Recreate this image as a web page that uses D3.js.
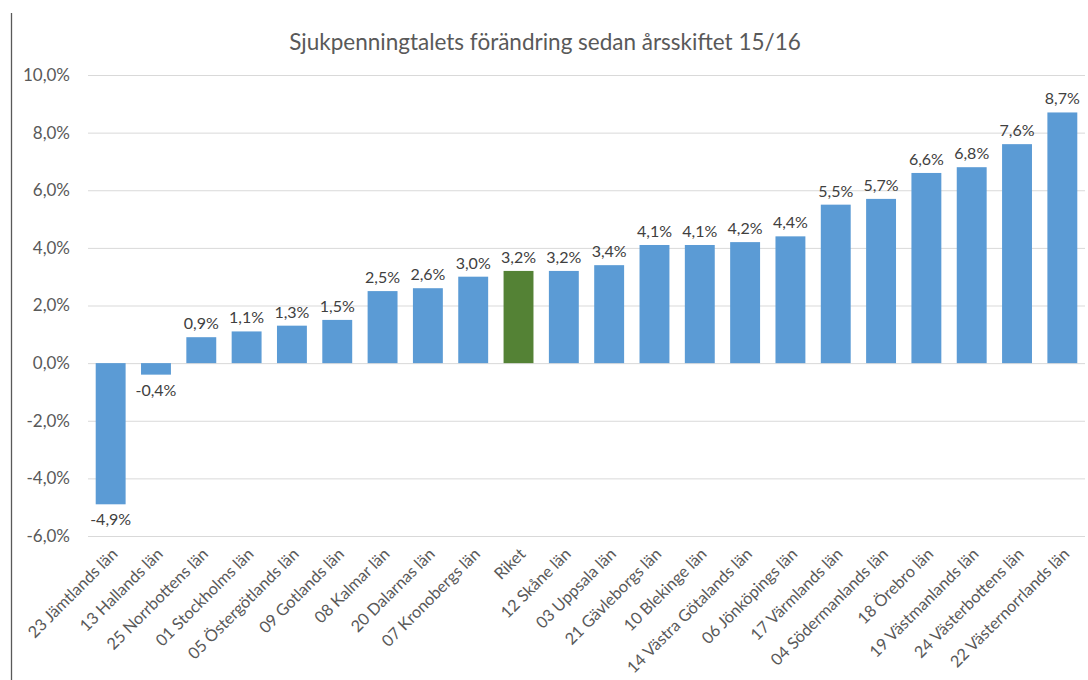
<!DOCTYPE html>
<html>
<head>
<meta charset="utf-8">
<script src="https://cdn.jsdelivr.net/npm/d3@7"></script>
<style>
  body { margin: 0; background: #fff; }
  svg { display: block; font-family: Lato, "Open Sans", sans-serif; }
</style>
</head>
<body>
<svg id="chart"></svg>
<script>
// categories and values
const categories = [
    "23 Jämtlands län", "13 Hallands län", "25 Norrbottens län", "01 Stockholms län",
    "05 Östergötlands län", "09 Gotlands län", "08 Kalmar län", "20 Dalarnas län",
    "07 Kronobergs län", "Riket", "12 Skåne län", "03 Uppsala län", "21 Gävleborgs län",
    "10 Blekinge län", "14 Västra Götalands län", "06 Jönköpings län", "17 Värmlands län",
    "04 Södermanlands län", "18 Örebro län", "19 Västmanlands län", "24 Västerbottens län",
    "22 Västernorrlands län"
];
const values = [-4.9, -0.4, 0.9, 1.1, 1.3, 1.5, 2.5, 2.6, 3.0, 3.2, 3.2, 3.4, 4.1, 4.1, 4.2, 4.4, 5.5, 5.7, 6.6, 6.8, 7.6, 8.7];
const yTicks = [-6, -4, -2, 0, 2, 4, 6, 8, 10];
const highlight = "Riket";

const data = categories.map((c, i) => ({ key: c, value: values[i] }));

var width = 1088,
    height = 680;

var svg = d3.select("#chart")
    .attr("width", width)
    .attr("height", height);

var plotLeft = 88, plotRight = 1085, plotTop = 75, plotBottom = 536;

var xScale = d3.scaleBand().domain(categories).range([plotLeft, plotRight]).paddingInner(0.34).paddingOuter(0.17),
    yScale = d3.scaleLinear().domain([-6, 10]).range([plotBottom, plotTop]);

const pct = d => d3.format(".1f")(d).replace(".", ",").replace("−", "-") + "%";

// left border line
svg.append("line")
    .attr("x1", 11.5).attr("x2", 11.5)
    .attr("y1", 13).attr("y2", height)
    .attr("stroke", "#595959").attr("stroke-width", 1.3);

// title
svg.append("text")
    .attr("x", 545).attr("y", 50)
    .attr("text-anchor", "middle")
    .attr("fill", "#595959")
    .style("font-size", "22.5px")
    .text("Sjukpenningtalets förändring sedan årsskiftet 15/16");

// gridlines + y axis labels
var yAxis = svg.append("g")
    .attr("transform", "translate(" + plotLeft + ",0)")
    .call(d3.axisLeft(yScale).tickValues(yTicks).tickSize(-(plotRight - plotLeft)).tickFormat(pct));

yAxis.select(".domain").remove();
yAxis.selectAll(".tick line").attr("stroke", "#d9d9d9");
yAxis.selectAll(".tick text")
    .attr("x", -18)
    .attr("fill", "#595959")
    .style("font-size", "17px")
    .style("font-family", "Lato, sans-serif");

// bars
svg.append("g").selectAll("rect")
    .data(data)
    .join("rect")
    .attr("x", d => xScale(d.key))
    .attr("width", xScale.bandwidth())
    .attr("y", d => yScale(Math.max(0, d.value)))
    .attr("height", d => Math.abs(yScale(d.value) - yScale(0)))
    .attr("fill", d => d.key === highlight ? "#548235" : "#5b9bd5");

// value labels
svg.append("g").selectAll("text")
    .data(data)
    .join("text")
    .attr("x", d => xScale(d.key) + xScale.bandwidth() / 2)
    .attr("y", d => d.value >= 0 ? yScale(d.value) - 8 : yScale(d.value) + 21)
    .attr("text-anchor", "middle")
    .attr("fill", "#404040")
    .style("font-size", "16px")
    .text(d => pct(d.value));

// category labels, rotated
svg.append("g").selectAll("text")
    .data(data)
    .join("text")
    .attr("transform", d => "translate(" + (xScale(d.key) + xScale.bandwidth() / 2 + 8) + "," + 555 + ") rotate(-45)")
    .attr("text-anchor", "end")
    .attr("fill", "#595959")
    .style("font-size", "16.3px")
    .text(d => d.key);
</script>
</body>
</html>
